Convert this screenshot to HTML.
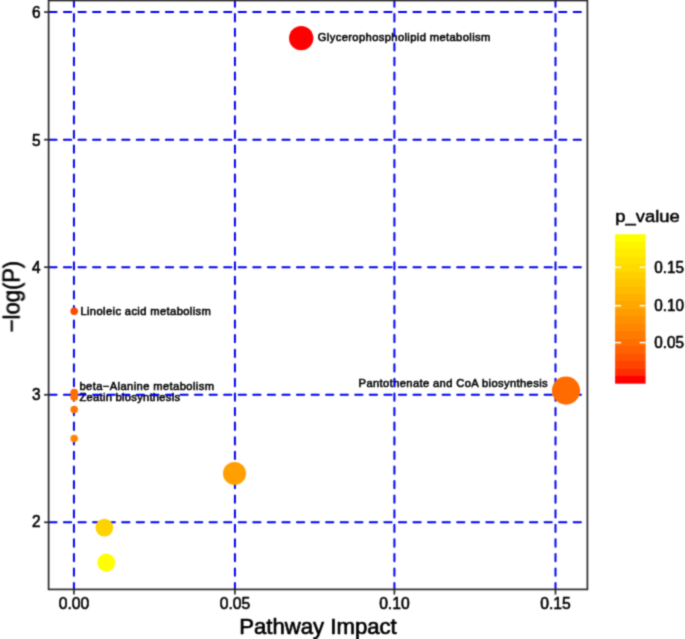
<!DOCTYPE html>
<html><head><meta charset="utf-8"><style>
html,body{margin:0;padding:0;background:#fff;overflow:hidden}
svg{display:block}
text{font-family:"Liberation Sans",sans-serif}
</style></head><body>
<svg width="685" height="639" viewBox="0 0 685 639">
<defs><clipPath id="pc"><rect x="48.6" y="0.5" width="538.8" height="588.9"/></clipPath>
<filter id="bl" x="0" y="0" width="685" height="639" filterUnits="userSpaceOnUse" color-interpolation-filters="sRGB"><feConvolveMatrix order="3" kernelMatrix="0.09000 0.30000 0.09000 0.30000 1.00000 0.30000 0.09000 0.30000 0.09000" divisor="2.56000" edgeMode="duplicate"/></filter></defs>
<g filter="url(#bl)">
<rect width="685" height="639" fill="#fff"/>
<text transform="translate(317.80,41.00)" font-size="11.2" font-weight="normal" text-anchor="start" fill="#000" stroke="#000" stroke-width="0.55" stroke-linejoin="round" textLength="172.50" lengthAdjust="spacing">Glycerophospholipid metabolism</text>
<text transform="translate(80.40,314.80)" font-size="11.2" font-weight="normal" text-anchor="start" fill="#000" stroke="#000" stroke-width="0.55" stroke-linejoin="round" textLength="130.50" lengthAdjust="spacing">Linoleic acid metabolism</text>
<text transform="translate(79.50,390.00)" font-size="11.2" font-weight="normal" text-anchor="start" fill="#000" stroke="#000" stroke-width="0.55" stroke-linejoin="round" textLength="134.50" lengthAdjust="spacing">beta−Alanine metabolism</text>
<text transform="translate(79.50,400.70)" font-size="11.2" font-weight="normal" text-anchor="start" fill="#000" stroke="#000" stroke-width="0.55" stroke-linejoin="round" textLength="100.50" lengthAdjust="spacing">Zeatin biosynthesis</text>
<text transform="translate(358.60,386.60)" font-size="11.2" font-weight="normal" text-anchor="start" fill="#000" stroke="#000" stroke-width="0.55" stroke-linejoin="round" textLength="189.00" lengthAdjust="spacing">Pantothenate and CoA biosynthesis</text>
<g clip-path="url(#pc)" stroke="#0000EE" stroke-width="2.0" stroke-linecap="round" fill="none">
<line x1="49.33" y1="12.11" x2="587.4" y2="12.11" stroke-dasharray="7.2825 7.2825"/>
<line x1="49.33" y1="139.66" x2="587.4" y2="139.66" stroke-dasharray="7.2825 7.2825"/>
<line x1="49.33" y1="267.21" x2="587.4" y2="267.21" stroke-dasharray="7.2825 7.2825"/>
<line x1="49.33" y1="394.76" x2="587.4" y2="394.76" stroke-dasharray="7.2825 7.2825"/>
<line x1="49.33" y1="522.31" x2="587.4" y2="522.31" stroke-dasharray="7.2825 7.2825"/>
<line x1="73.93" y1="590.4" x2="73.93" y2="0" stroke-dasharray="7.2950 7.2950"/>
<line x1="234.93" y1="590.4" x2="234.93" y2="0" stroke-dasharray="7.2950 7.2950"/>
<line x1="394.40" y1="590.4" x2="394.40" y2="0" stroke-dasharray="7.2950 7.2950"/>
<line x1="555.50" y1="590.4" x2="555.50" y2="0" stroke-dasharray="7.2950 7.2950"/>
</g>
<circle cx="301.2" cy="38.2" r="12.15" fill="#FF0000"/>
<circle cx="74.2" cy="311.2" r="3.75" fill="#FF4900"/>
<circle cx="74.2" cy="392.5" r="3.85" fill="#FF6C00"/>
<circle cx="74.2" cy="397.1" r="3.85" fill="#FF6E00"/>
<circle cx="74.2" cy="409.6" r="3.75" fill="#FF7500"/>
<circle cx="74.2" cy="438.5" r="3.75" fill="#FF8600"/>
<circle cx="566" cy="390.6" r="14.10" fill="#FF6B00"/>
<circle cx="234.5" cy="473.4" r="11.50" fill="#FF9F00"/>
<circle cx="104.4" cy="527.6" r="8.90" fill="#FFD300"/>
<circle cx="106.3" cy="562.6" r="9.00" fill="#FFFF00"/>
<rect x="48.6" y="0.5" width="538.8" height="588.9" fill="none" stroke="#2b2b2b" stroke-width="1.7"/>
<g stroke="#2b2b2b" stroke-width="1.7">
<line x1="44.1" y1="12.11" x2="48.6" y2="12.11"/>
<line x1="44.1" y1="139.66" x2="48.6" y2="139.66"/>
<line x1="44.1" y1="267.21" x2="48.6" y2="267.21"/>
<line x1="44.1" y1="394.76" x2="48.6" y2="394.76"/>
<line x1="44.1" y1="522.31" x2="48.6" y2="522.31"/>
<line x1="73.93" y1="589.4" x2="73.93" y2="594.6"/>
<line x1="234.93" y1="589.4" x2="234.93" y2="594.6"/>
<line x1="394.40" y1="589.4" x2="394.40" y2="594.6"/>
<line x1="555.50" y1="589.4" x2="555.50" y2="594.6"/>
</g>
<text transform="translate(40.50,18.21) scale(0.9500,1)" font-size="16.2" font-weight="normal" text-anchor="end" fill="#000" stroke="#000" stroke-width="0.6" stroke-linejoin="round">6</text>
<text transform="translate(40.50,145.76) scale(0.9500,1)" font-size="16.2" font-weight="normal" text-anchor="end" fill="#000" stroke="#000" stroke-width="0.6" stroke-linejoin="round">5</text>
<text transform="translate(40.50,273.31) scale(0.9500,1)" font-size="16.2" font-weight="normal" text-anchor="end" fill="#000" stroke="#000" stroke-width="0.6" stroke-linejoin="round">4</text>
<text transform="translate(40.50,399.56) scale(0.9500,1)" font-size="16.2" font-weight="normal" text-anchor="end" fill="#000" stroke="#000" stroke-width="0.6" stroke-linejoin="round">3</text>
<text transform="translate(40.50,527.31) scale(0.9500,1)" font-size="16.2" font-weight="normal" text-anchor="end" fill="#000" stroke="#000" stroke-width="0.6" stroke-linejoin="round">2</text>
<text transform="translate(73.93,608.80) scale(0.9460,1)" font-size="16.6" font-weight="normal" text-anchor="middle" fill="#000" stroke="#000" stroke-width="0.6" stroke-linejoin="round">0.00</text>
<text transform="translate(234.93,608.80) scale(0.9460,1)" font-size="16.6" font-weight="normal" text-anchor="middle" fill="#000" stroke="#000" stroke-width="0.6" stroke-linejoin="round">0.05</text>
<text transform="translate(394.40,608.80) scale(0.9460,1)" font-size="16.6" font-weight="normal" text-anchor="middle" fill="#000" stroke="#000" stroke-width="0.6" stroke-linejoin="round">0.10</text>
<text transform="translate(555.50,608.80) scale(0.9460,1)" font-size="16.6" font-weight="normal" text-anchor="middle" fill="#000" stroke="#000" stroke-width="0.6" stroke-linejoin="round">0.15</text>
<text transform="translate(318.00,633.80) scale(1.0070,1)" font-size="22" font-weight="normal" text-anchor="middle" fill="#000" stroke="#000" stroke-width="0.65" stroke-linejoin="round">Pathway Impact</text>
<text transform="translate(19.60,296.50) rotate(-90) scale(0.9350,1)" font-size="23.5" font-weight="normal" text-anchor="middle" fill="#000" stroke="#000" stroke-width="0.65" stroke-linejoin="round">−log(P)</text>
<text transform="translate(615.30,222.10)" font-size="17.1" font-weight="normal" text-anchor="start" fill="#000" stroke="#000" stroke-width="0.5" stroke-linejoin="round" textLength="64.40" lengthAdjust="spacingAndGlyphs">p_value</text>
<defs><linearGradient id="lg" x1="0" y1="1" x2="0" y2="0"><stop offset="0.0000" stop-color="#FF0000"/><stop offset="0.0500" stop-color="#FF0000"/><stop offset="0.0500" stop-color="#FF2D00"/><stop offset="0.1000" stop-color="#FF2D00"/><stop offset="0.1000" stop-color="#FF4300"/><stop offset="0.1500" stop-color="#FF4300"/><stop offset="0.1500" stop-color="#FF5300"/><stop offset="0.2000" stop-color="#FF5300"/><stop offset="0.2000" stop-color="#FF6200"/><stop offset="0.2500" stop-color="#FF6200"/><stop offset="0.2500" stop-color="#FF6F00"/><stop offset="0.3000" stop-color="#FF6F00"/><stop offset="0.3000" stop-color="#FF7B00"/><stop offset="0.3500" stop-color="#FF7B00"/><stop offset="0.3500" stop-color="#FF8600"/><stop offset="0.4000" stop-color="#FF8600"/><stop offset="0.4000" stop-color="#FF9100"/><stop offset="0.4500" stop-color="#FF9100"/><stop offset="0.4500" stop-color="#FF9C00"/><stop offset="0.5000" stop-color="#FF9C00"/><stop offset="0.5000" stop-color="#FFA700"/><stop offset="0.5500" stop-color="#FFA700"/><stop offset="0.5500" stop-color="#FFB100"/><stop offset="0.6000" stop-color="#FFB100"/><stop offset="0.6000" stop-color="#FFBB00"/><stop offset="0.6500" stop-color="#FFBB00"/><stop offset="0.6500" stop-color="#FFC500"/><stop offset="0.7000" stop-color="#FFC500"/><stop offset="0.7000" stop-color="#FFCF00"/><stop offset="0.7500" stop-color="#FFCF00"/><stop offset="0.7500" stop-color="#FFD900"/><stop offset="0.8000" stop-color="#FFD900"/><stop offset="0.8000" stop-color="#FFE200"/><stop offset="0.8500" stop-color="#FFE200"/><stop offset="0.8500" stop-color="#FFEC00"/><stop offset="0.9000" stop-color="#FFEC00"/><stop offset="0.9000" stop-color="#FFF500"/><stop offset="0.9500" stop-color="#FFF500"/><stop offset="0.9500" stop-color="#FFFF00"/><stop offset="1.0000" stop-color="#FFFF00"/></linearGradient></defs>
<rect x="615.1" y="234.2" width="30.5" height="149.5" fill="url(#lg)"/>
<g stroke="#fff" stroke-width="1.5">
<line x1="615.1" y1="267.3" x2="621.1" y2="267.3"/><line x1="639.6" y1="267.3" x2="645.6" y2="267.3"/>
<line x1="615.1" y1="305.7" x2="621.1" y2="305.7"/><line x1="639.6" y1="305.7" x2="645.6" y2="305.7"/>
<line x1="615.1" y1="342.6" x2="621.1" y2="342.6"/><line x1="639.6" y1="342.6" x2="645.6" y2="342.6"/>
</g>
<text transform="translate(654.20,272.70) scale(0.9220,1)" font-size="16.6" font-weight="normal" text-anchor="start" fill="#000" stroke="#000" stroke-width="0.6" stroke-linejoin="round">0.15</text>
<text transform="translate(654.20,311.10) scale(0.9220,1)" font-size="16.6" font-weight="normal" text-anchor="start" fill="#000" stroke="#000" stroke-width="0.6" stroke-linejoin="round">0.10</text>
<text transform="translate(654.20,348.00) scale(0.9220,1)" font-size="16.6" font-weight="normal" text-anchor="start" fill="#000" stroke="#000" stroke-width="0.6" stroke-linejoin="round">0.05</text>
</g></svg>
</body></html>
